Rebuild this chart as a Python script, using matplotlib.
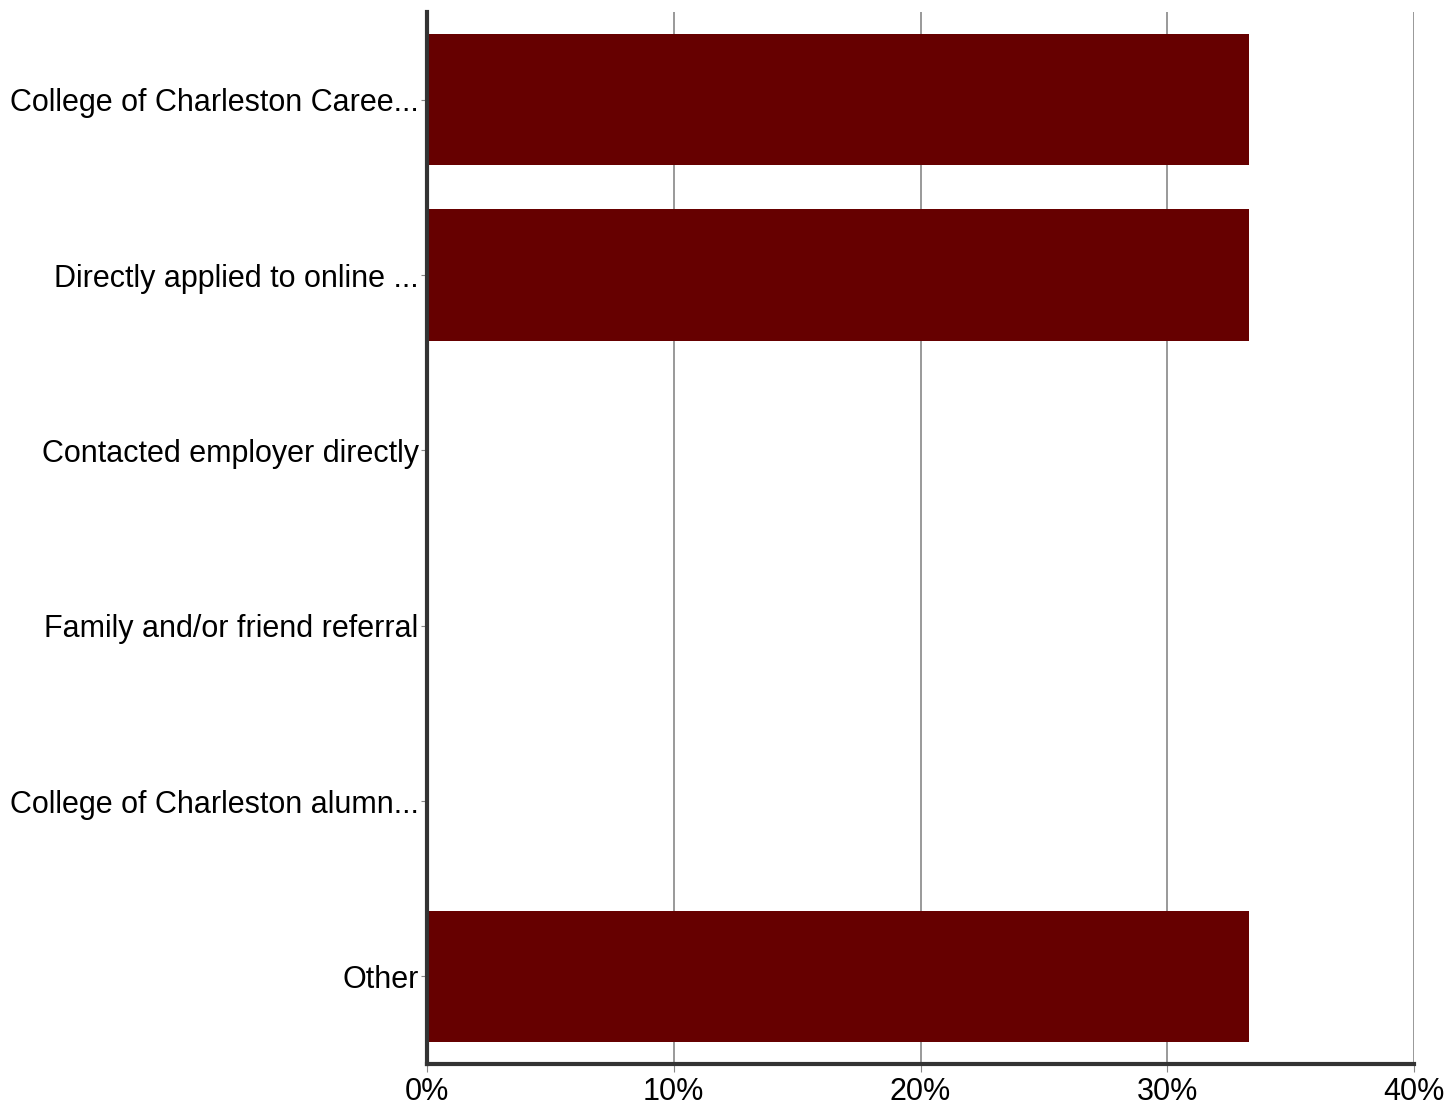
import numpy as np
import matplotlib.pyplot as plt
from matplotlib.ticker import PercentFormatter

plt.rcParams['font.family'] = ['Liberation Sans', 'DejaVu Sans']

categories = [
    "College of Charleston Caree...",
    "Directly applied to online ...",
    "Contacted employer directly",
    "Family and/or friend referral",
    "College of Charleston alumn...",
    "Other",
]
shares = [33.33, 33.33, 0, 0, 0, 33.33]
x_ticks = [0, 10, 20, 30, 40]

fig = plt.figure(figsize=(14.47, 11.04), dpi=100)
ax = fig.add_axes([427 / 1447, 40 / 1104, 987 / 1447, 1052 / 1104])

y = np.arange(len(categories))
ax.barh(y, shares, height=0.75, color='#660000', zorder=3)

ax.set_ylim(len(categories) - 0.5, -0.5)
ax.set_xlim(0, 40)
ax.set_yticks(y)
ax.set_yticklabels(categories, fontsize=22)
ax.set_xticks(x_ticks)
ax.xaxis.set_major_formatter(PercentFormatter(decimals=0))
ax.tick_params(axis='x', labelsize=22, length=6, color='#888888', pad=3)
ax.tick_params(axis='y', length=4, color='#888888', pad=2)

ax.grid(axis='x', color='#888888', linewidth=1.2, zorder=0)
for side in ['top', 'right']:
    ax.spines[side].set_visible(False)
for side in ['left', 'bottom']:
    ax.spines[side].set_color('#333333')
    ax.spines[side].set_linewidth(3)
    ax.spines[side].set_zorder(4)

fig.savefig('out.png', dpi=100)
